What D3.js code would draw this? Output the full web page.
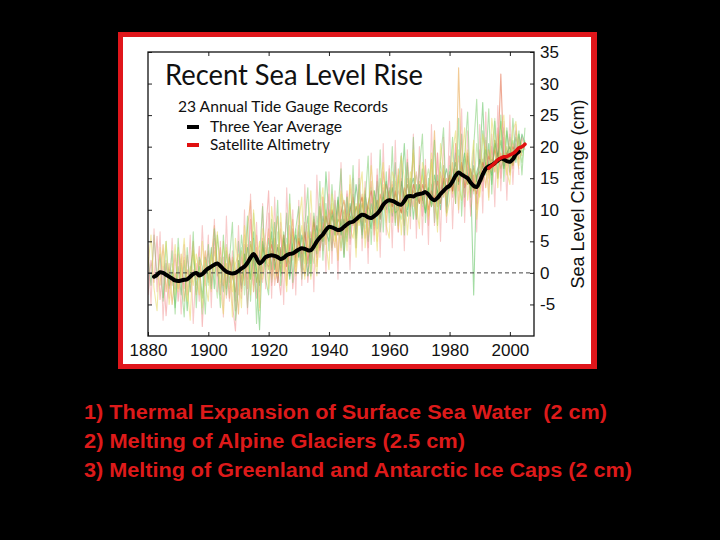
<!DOCTYPE html>
<html><head><meta charset="utf-8">
<script src="https://cdn.jsdelivr.net/npm/d3@7"></script>
<style>html,body{margin:0;padding:0;background:#000;} svg{display:block;}</style>
</head><body><svg id="chart" width="720" height="540"></svg>
<script>
// ---------------- DATA ----------------
const xTickYears = [1880, 1900, 1920, 1940, 1960, 1980, 2000];
const yTickValues = [-5, 0, 5, 10, 15, 20, 25, 30, 35];
const titleText = "Recent Sea Level Rise";
const subtitleText = "23 Annual Tide Gauge Records";
const legendLabels = ["Three Year Average", "Satellite Altimetry"];
const yAxisTitle = "Sea Level Change (cm)";
const notes = [
  "1) Thermal Expansion of Surface Sea Water  (2 cm)",
  "2) Melting of Alpine Glaciers (2.5 cm)",
  "3) Melting of Greenland and Antarctic Ice Caps (2 cm)"
];

const averageStartYear = 1882;
const threeYearAverage = [
  -0.6,-0.3,0.1,0.0,-0.3,-0.6,-0.9,-1.2,
  -1.3,-1.2,-1.1,-1.0,-0.6,-0.2,0.0,-0.4,-0.2,0.3,
  0.7,1.0,1.3,1.5,1.1,0.6,0.2,0.0,-0.1,0.0,
  0.3,0.7,1.0,1.6,2.4,3.0,2.3,1.5,1.9,2.5,
  2.7,2.8,2.7,2.5,2.2,2.4,2.8,3.0,3.1,3.4,
  3.7,3.9,3.8,3.6,3.6,4.2,5.0,5.6,6.1,6.8,
  7.3,7.2,7.0,6.8,6.9,7.3,7.7,8.0,8.1,8.5,
  8.9,9.2,9.1,8.8,8.7,9.0,9.4,10.0,10.8,11.3,
  11.5,11.4,11.2,10.9,10.8,11.4,12.1,12.2,12.1,12.4,
  12.5,12.6,12.8,12.4,11.8,11.5,11.9,12.5,13.0,13.5,
  13.8,14.5,15.4,15.9,15.6,15.3,15.0,14.3,13.8,13.6,
  14.5,15.6,16.5,16.9,17.1,17.4,17.8,18.1,18.0,17.7,
  17.6,18.0,18.8,19.2
];

const satelliteStartYear = 1993;
const satelliteAltimetry = [16.6,17.0,17.4,17.9,18.2,18.4,18.4,18.7,18.9,19.3,19.8,20.0,20.4];

const gaugeStartYears = [1880, 1880, 1884, 1888, 1895, 1900, 1905, 1910, 1920, 1880, 1885, 1880];

const gaugeA = [
  -3.5,2.0,-1.5,5.8,-4.2,1.0,-6.8,0.5,-2.0,3.0,
  -4.5,1.5,-2.5,2.8,-3.0,0.5,-1.0,4.2,-8.5,1.0,
  3.5,-2.0,5.5,0.5,-3.5,2.5,-1.5,3.0,-5.0,-9.2,
  2.0,-3.0,4.5,-1.0,8.5,1.5,-4.0,3.5,0.0,6.0,
  13.0,-2.0,5.5,0.5,-3.5,4.0,1.0,7.5,-2.5,3.0,
  6.5,0.0,8.0,-1.5,4.5,9.0,2.5,11.0,3.5,8.0,
  12.5,4.0,9.5,2.0,10.5,5.5,13.0,4.5,9.0,6.0,
  14.0,6.5,11.0,4.0,12.5,7.0,15.5,8.5,13.0,9.5,
  16.5,8.0,13.5,6.5,15.0,9.5,18.0,10.0,14.0,8.5,
  17.0,9.0,15.5,7.5,14.0,10.5,19.0,11.0,16.0,9.5,
  18.5,12.0,20.5,13.0,17.5,10.5,19.0,9.0,15.5,11.0,
  19.5,13.0,21.0,15.5,20.0,16.0,23.0,15.0,21.5,17.0,
  22.0,16.5,20.5,18.0,21.5,19.5
];
const gaugeB = [
  2.5,-2.0,6.0,-1.0,3.0,-4.5,1.5,-2.5,0.5,-5.5,
  1.0,-3.5,2.0,-6.0,0.5,3.5,-2.0,1.0,-4.0,2.5,
  -1.0,4.0,-2.5,6.0,1.0,-3.0,3.5,-1.5,2.0,-4.5,
  5.0,-2.0,3.0,-5.5,2.0,6.5,-1.0,-9.0,4.5,1.0,
  5.5,0.5,8.0,-1.5,4.0,2.0,9.5,-0.5,6.0,1.5,
  7.5,-1.0,5.0,9.0,1.5,7.0,3.0,10.5,5.0,16.0,
  9.0,3.5,11.5,6.0,8.5,2.5,10.0,7.0,12.5,5.5,
  10.5,7.5,13.0,5.0,11.0,8.0,14.5,6.5,12.0,10.0,
  13.5,9.0,17.5,7.5,12.5,20.5,10.0,15.0,8.5,14.0,
  11.0,16.5,9.5,13.0,18.0,8.0,15.5,12.0,17.0,10.5,
  16.0,13.0,19.0,14.5,22.0,12.0,18.5,15.0,-3.5,16.0,
  17.5,27.0,15.5,20.5,14.0,21.0,18.5,24.0,17.0,22.5,
  18.5,21.0,17.5,22.0,19.0,20.5
];
const gaugeC = [
  -2.0,4.5,-3.0,1.5,-5.0,0.0,
  -2.5,3.0,-4.5,0.5,-1.5,5.0,-3.5,2.0,-0.5,3.5,
  -1.5,2.5,7.5,-0.5,4.0,-2.0,1.5,-4.0,2.5,0.5,
  -6.5,3.5,-2.0,7.0,11.5,-0.5,4.0,-1.5,5.5,2.0,
  7.0,-1.0,4.5,9.0,0.5,6.0,-2.0,5.0,8.5,1.0,
  5.5,2.0,-0.5,6.5,3.0,8.5,1.0,6.0,12.0,4.5,
  10.0,6.5,4.0,11.5,3.5,9.0,6.0,14.0,7.5,10.5,
  8.0,12.5,5.5,10.0,14.5,6.0,11.5,9.0,16.0,12.0,
  10.5,14.0,8.0,16.5,11.0,7.5,15.0,12.5,19.0,10.0,
  14.5,11.0,17.0,9.0,13.5,22.5,10.5,16.0,12.0,15.0,
  13.0,17.5,11.0,32.5,16.0,14.0,19.0,12.5,15.5,10.0,
  14.0,18.0,13.5,19.5,16.0,21.0,15.0,19.0,16.5,20.0,
  15.5,19.5,18.0,21.0,18.5
];
const gaugeD = [
  1.5,-3.5,
  4.0,-1.0,2.5,-4.5,1.0,-2.0,3.0,0.0,-5.5,2.0,
  0.5,-3.0,3.5,1.0,-1.5,5.0,-0.5,2.0,-3.0,1.5,
  3.0,-1.5,6.0,0.5,4.5,-3.0,2.0,5.0,-1.0,3.5,
  1.5,5.5,-1.0,3.0,7.0,0.0,4.5,2.5,6.5,-0.5,
  4.0,7.5,1.5,5.0,-1.0,6.5,3.5,8.0,5.5,9.5,
  6.0,11.0,5.0,8.5,12.5,4.5,9.5,7.0,5.5,11.0,
  7.5,10.0,13.5,6.0,9.5,12.0,5.0,11.5,14.0,8.0,
  12.5,9.5,11.0,15.5,6.0,13.0,10.5,16.0,11.5,9.0,
  13.0,15.5,10.0,12.5,17.5,11.0,8.5,14.5,16.5,12.0,
  15.5,12.5,18.0,14.0,11.5,17.0,19.5,13.0,16.5,14.5,
  12.0,17.5,20.0,15.0,18.5,16.0,22.0,17.5,19.0,15.5,
  20.5,17.0,19.5,16.5
];
const gaugeE = [
  2.5,-3.0,0.5,-6.5,1.5,
  -2.0,3.0,0.0,-4.0,2.5,-1.0,4.5,-2.5,1.0,-6.0,
  0.5,4.0,-3.5,2.0,-1.0,9.5,1.0,-3.0,3.5,0.5,
  4.0,-1.5,2.0,6.5,-0.5,3.0,5.5,1.0,4.5,7.0,
  2.0,5.5,3.0,7.5,4.0,1.5,9.0,5.5,7.0,10.0,
  8.0,5.0,10.5,7.5,4.0,9.5,12.0,6.5,10.0,8.5,
  12.5,9.0,7.0,11.0,13.5,8.5,10.0,15.0,11.5,13.0,
  9.5,12.0,14.5,10.0,8.5,13.5,17.0,11.0,13.5,15.5,
  12.0,10.5,14.0,16.5,13.0,9.5,12.5,17.5,14.0,11.5,
  17.0,14.5,12.0,19.5,15.5,18.0,14.0,16.5,12.5,20.5,
  15.5,18.0,21.5,16.5,19.0,24.5,17.5,20.0,23.0,18.0,
  21.5,19.0,22.5,20.0,17.5,21.0
];
const gaugeF = [
  2.0,-1.5,4.0,0.5,-2.5,1.5,-4.0,3.0,-1.0,0.0,
  -3.5,2.5,-1.0,4.5,1.0,-2.0,6.0,0.5,-1.5,4.0,
  2.0,5.0,-2.0,1.5,6.0,3.5,-0.5,4.5,2.0,5.5,
  3.0,0.5,6.0,4.5,2.0,5.5,7.5,4.0,8.0,6.0,
  9.5,6.0,8.0,10.0,5.5,8.5,7.0,10.5,9.0,7.5,
  11.0,8.0,10.0,7.5,12.0,9.5,11.5,8.5,13.5,10.5,
  12.0,14.5,10.0,13.0,11.5,9.0,14.0,12.5,10.5,16.0,
  11.5,13.5,15.0,10.0,12.0,14.5,11.0,13.5,15.5,12.5,
  14.0,16.5,13.0,18.5,15.0,12.5,17.0,15.5,13.0,15.0,
  17.0,15.5,18.5,16.0,19.5,17.0,20.5,18.5,17.0,19.0,
  18.0,20.5,19.0,21.5,20.0
];
const gaugeG = [
  1.0,-2.5,2.5,-0.5,-3.0,
  1.5,-1.0,3.0,-2.5,5.0,2.0,-1.5,1.0,4.0,2.5,
  0.5,3.5,2.0,4.5,0.0,5.0,2.5,1.5,4.0,3.0,
  5.5,2.5,4.0,1.5,6.5,4.0,5.5,7.0,5.0,8.5,
  7.0,9.0,6.0,8.5,7.5,10.0,6.5,9.0,8.0,10.5,
  9.0,11.0,8.0,10.5,9.5,7.5,11.5,10.0,12.0,11.0,
  13.0,10.5,12.5,11.0,9.5,12.0,14.0,11.5,13.0,12.0,
  13.5,11.5,14.0,12.5,10.5,12.0,13.0,11.0,14.5,13.5,
  15.0,13.0,16.5,14.5,17.0,15.5,14.0,16.0,13.0,15.5,
  16.0,14.5,17.5,16.0,18.0,17.0,19.0,16.5,18.5,17.5,
  18.5,17.0,19.5,18.0
];
const gaugeH = [
  2.0,-2.5,1.0,4.0,-1.0,3.0,0.5,-2.0,5.0,1.5,
  3.0,6.5,0.5,4.0,1.5,5.5,3.0,-1.0,4.5,6.0,
  2.5,6.0,4.0,-0.5,5.5,3.5,7.5,4.0,9.0,6.5,
  5.0,9.5,7.0,12.0,6.0,8.5,5.0,11.0,8.0,14.0,
  10.0,6.0,12.5,9.0,7.0,13.0,10.5,8.5,12.0,14.5,
  11.0,13.5,9.5,10.0,14.5,12.0,9.0,13.5,15.0,11.5,
  14.0,12.0,9.5,13.5,11.0,15.5,13.0,10.0,14.5,16.5,
  13.5,15.0,17.5,14.0,16.0,19.0,15.5,13.0,17.0,14.5,
  18.0,16.5,19.5,17.0,15.5,20.5,18.5,21.0,16.5,19.0,
  20.0,18.0,21.5,19.0,22.0,20.5
];
const gaugeI = [
  1.0,4.5,2.0,-1.5,3.5,6.0,1.0,4.0,7.0,2.5,
  5.0,3.0,6.5,2.0,4.5,8.0,5.5,3.5,7.0,9.0,
  7.5,10.0,8.0,6.0,9.5,11.5,8.0,9.5,12.0,7.0,
  10.5,12.0,9.0,11.0,13.0,10.5,9.0,12.5,10.0,14.0,
  12.0,10.5,13.0,11.0,9.5,13.5,12.0,10.5,14.0,12.5,
  11.0,14.0,12.5,10.0,13.0,11.5,14.5,12.0,15.0,13.5,
  15.5,13.0,16.0,14.5,17.5,13.5,15.0,16.5,14.0,12.5,
  15.0,17.5,16.0,18.5,17.0,19.5,18.0,31.5,17.5,19.0,
  18.5,20.0,19.0
];
const gaugeJ = [
  4.5,-5.0,7.0,-3.0,6.5,-7.5,2.0,-4.0,5.5,-2.5,
  3.0,-6.5,4.5,-3.5,6.0,-8.0,1.5,-4.5,7.5,-2.0,
  6.0,-5.5,8.5,-3.0,5.0,-7.0,9.0,-4.5,3.5,-6.0,
  7.5,-4.0,10.0,-6.5,12.5,-3.0,8.0,-5.5,11.0,-2.5,
  9.5,-4.0,12.0,-1.5,8.0,-5.0,13.5,0.5,10.0,-3.5,
  11.5,-2.0,14.0,1.0,9.5,-3.0,15.5,2.5,12.0,0.0,
  16.0,1.5,13.0,-1.0,17.5,3.0,12.5,0.5,15.0,4.0,
  18.0,3.5,14.5,1.5,19.0,5.0,16.5,2.5,20.5,6.0,
  17.0,4.0,21.0,6.5,18.5,3.5,19.5,7.0,22.0,5.5,
  20.0,6.0,18.0,4.5,23.5,7.5,19.0,5.0,21.5,8.0,
  24.0,7.0,20.5,9.5,26.0,8.0,22.5,10.5,19.5,6.5,
  23.5,9.5,25.5,12.0,22.0,10.5,26.5,13.0,24.0,11.5,
  25.0,14.0,23.5,15.5
];
const gaugeK = [
  -4.0,5.0,-2.0,3.5,-6.5,
  5.5,-1.5,-7.0,4.0,-3.0,6.5,-5.5,2.5,1.0,-6.5,
  4.5,-2.5,7.0,1.5,-5.5,6.0,-3.5,2.0,8.0,-7.5,
  -2.0,6.0,1.0,9.0,-4.5,5.5,-8.0,3.0,10.5,-1.0,
  -3.5,8.5,3.0,11.5,-2.0,6.5,1.5,12.5,-1.5,7.0,
  10.5,0.5,7.5,13.5,-0.5,9.5,4.0,14.5,2.0,11.0,
  3.5,14.0,6.0,10.0,16.5,2.5,12.0,5.5,17.0,4.0,
  15.0,5.5,11.0,18.5,4.5,13.0,7.0,19.5,6.5,16.0,
  8.0,20.0,7.5,14.0,19.0,6.0,17.5,9.0,21.5,8.5,
  16.5,22.0,8.0,15.0,10.5,21.0,7.5,18.0,23.0,9.5,
  14.5,21.5,11.0,24.5,9.0,18.5,25.5,12.0,20.0,27.5,
  13.5,22.5,17.0,26.0,12.5,24.0,15.0,25.0,14.5,23.0,
  16.0,24.5,18.0,22.5,15.5,23.0
];
const gaugeL = [
  1.0,6.0,-2.5,-6.0,4.0,0.5,5.0,-5.0,-1.0,4.5,
  -3.0,0.0,5.5,-2.0,-7.5,3.5,0.5,-3.5,5.0,-1.5,
  -4.5,3.0,0.0,6.5,-2.5,-6.5,4.0,1.0,-7.0,5.5,
  0.0,-5.5,7.5,2.0,-3.5,10.0,3.5,-6.0,7.0,4.5,
  -2.5,10.5,5.0,-0.5,9.5,2.0,-3.0,11.0,6.0,0.0,
  8.0,12.0,-1.0,5.5,13.0,3.0,-0.5,10.0,13.5,5.0,
  0.5,12.5,9.0,2.0,13.0,11.0,3.5,15.5,10.5,2.5,
  12.5,16.0,4.0,9.5,17.0,11.5,3.5,14.0,17.5,7.5,
  5.5,16.0,14.5,7.0,18.5,15.0,6.0,12.5,19.5,10.5,
  7.0,17.5,15.0,8.5,19.0,13.5,6.5,20.5,16.0,9.0,
  11.5,19.0,22.5,10.0,17.5,23.0,11.5,16.0,21.0,8.5,
  13.0,22.0,19.0,11.5,24.5,20.0,13.5,22.5,25.0,16.0,
  14.0,22.5,24.0,17.0,21.0
];
const gaugeRecords = [gaugeA, gaugeB, gaugeC, gaugeD, gaugeE, gaugeF, gaugeG, gaugeH, gaugeI, gaugeJ, gaugeK, gaugeL];

// ---------------- STYLE ----------------
const gaugeColors = ["#f08a8a","#58c058","#e8a040","#e8dc50","#a6e08a","#f4a890","#a8a838","#40b050","#e0603a","#f3a0a0","#7ccc70","#e6d860"];
const frameRed = "#e0161b";

// ---------------- DRAW ----------------
const svg = d3.select("#chart");
svg.append("rect").attr("x",0).attr("y",0).attr("width",720).attr("height",540).attr("fill","#000");
svg.append("rect").attr("x",118).attr("y",32).attr("width",479).attr("height",337).attr("fill",frameRed);
svg.append("rect").attr("x",123).attr("y",37).attr("width",468).attr("height",327).attr("fill","#fff");

const L = 148, R = 534, T = 52, B = 336;
const x = d3.scaleLinear().domain([1880, 2008]).range([L, R]);
const y = d3.scaleLinear().domain([-10, 35]).range([B, T]);

svg.append("defs").append("clipPath").attr("id","plotclip")
  .append("rect").attr("x",L).attr("y",T).attr("width",R-L).attr("height",B-T);

const plot = svg.append("g").attr("clip-path","url(#plotclip)");
const line = d3.line().x(d => x(d[0])).y(d => y(d[1]));
const toPts = (start, arr) => arr.map((v,i) => [start + i, v]);

gaugeRecords.forEach((rec, i) => {
  plot.append("path").datum(toPts(gaugeStartYears[i], rec))
    .attr("d", line).attr("fill","none")
    .attr("stroke", gaugeColors[i]).attr("stroke-width",1.1)
    .attr("stroke-opacity",0.55).attr("stroke-linejoin","round");
});

// zero dashed line
plot.append("line").attr("x1",x(1880)).attr("x2",x(2008)).attr("y1",y(0)).attr("y2",y(0))
  .attr("stroke","#444").attr("stroke-width",1).attr("stroke-dasharray","4,3");

const smooth = d3.line().x(d => x(d[0])).y(d => y(d[1])).curve(d3.curveCatmullRom.alpha(0.5));
plot.append("path").datum(toPts(averageStartYear, threeYearAverage))
  .attr("d", smooth).attr("fill","none").attr("stroke","#000")
  .attr("stroke-width",4).attr("stroke-linejoin","round").attr("stroke-linecap","round");
plot.append("path").datum(toPts(satelliteStartYear, satelliteAltimetry))
  .attr("d", smooth).attr("fill","none").attr("stroke","#e01010")
  .attr("stroke-width",3.5).attr("stroke-linejoin","round").attr("stroke-linecap","round");

// axes
const fmt = d => String(d);
const gR = svg.append("g").attr("transform",`translate(${R},0)`)
  .call(d3.axisRight(y).tickValues(yTickValues).tickSize(-4).tickPadding(6).tickFormat(fmt));
const gL = svg.append("g").attr("transform",`translate(${L},0)`)
  .call(d3.axisLeft(y).tickValues(yTickValues).tickSize(-4).tickFormat(""));
const gB = svg.append("g").attr("transform",`translate(0,${B})`)
  .call(d3.axisBottom(x).tickValues(xTickYears).tickSize(-4).tickPadding(8).tickFormat(fmt));
const gT = svg.append("g").attr("transform",`translate(0,${T})`)
  .call(d3.axisTop(x).tickValues(xTickYears.slice(1)).tickSize(-4).tickFormat(""));
[gR,gL,gB,gT].forEach(g => {
  g.select(".domain").remove();
  g.selectAll(".tick line").attr("stroke","#222").attr("stroke-width",1);
  g.selectAll("text").attr("font-family","'Liberation Sans', Arial, sans-serif")
    .attr("font-size",17).attr("fill","#111");
});
svg.append("rect").attr("x",L).attr("y",T).attr("width",R-L).attr("height",B-T)
  .attr("fill","none").attr("stroke","#111").attr("stroke-width",1.3);

// y axis title
svg.append("text").attr("transform","translate(584,194) rotate(-90)")
  .attr("text-anchor","middle").attr("font-family","'Liberation Sans', Arial, sans-serif")
  .attr("font-size",18).attr("fill","#111").text(yAxisTitle);

// title & legend
const myriad = "Lato, 'Open Sans', sans-serif";
svg.append("text").attr("x",165).attr("y",85).attr("font-family",myriad)
  .attr("font-size",28).attr("fill","#111").attr("textLength",258)
  .attr("lengthAdjust","spacingAndGlyphs").text(titleText);
svg.append("text").attr("x",178).attr("y",112).attr("font-family",myriad)
  .attr("font-size",16).attr("fill","#111").attr("textLength",210)
  .attr("lengthAdjust","spacingAndGlyphs").text(subtitleText);
const legColors = ["#000","#e01010"], legY = [127,145], legW = [132,120];
legendLabels.forEach((lab,i) => {
  svg.append("line").attr("x1",187).attr("x2",199).attr("y1",legY[i]).attr("y2",legY[i])
    .attr("stroke",legColors[i]).attr("stroke-width",4);
  svg.append("text").attr("x",210).attr("y",legY[i]+5).attr("font-family",myriad)
    .attr("font-size",16).attr("fill","#111").attr("textLength",legW[i])
    .attr("lengthAdjust","spacingAndGlyphs").text(lab);
});

// notes
const noteW = [523, 381, 548];
notes.forEach((t,i) => {
  svg.append("text").attr("x",84).attr("y",419 + i*29)
    .attr("font-family","'Liberation Sans Narrow','Arial Narrow','Liberation Sans',Arial,sans-serif")
    .attr("font-weight","bold").attr("font-size",20).attr("fill","#dd1a1a")
    .attr("textLength",noteW[i]).attr("lengthAdjust","spacingAndGlyphs")
    .attr("xml:space","preserve").style("white-space","pre").text(t);
});
</script></body></html>
